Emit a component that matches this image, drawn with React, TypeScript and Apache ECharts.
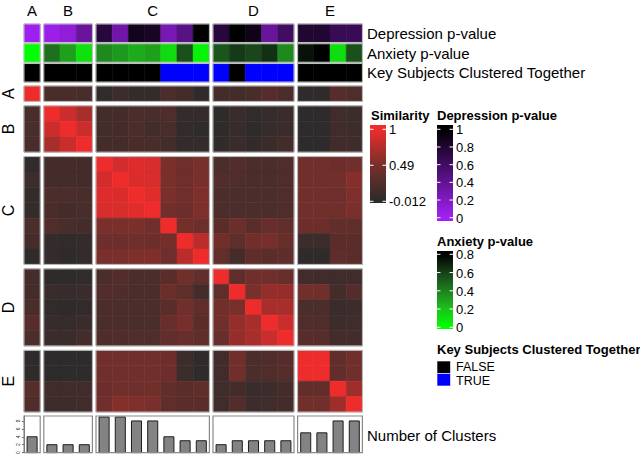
import React, { useEffect, useRef } from "react";
import * as echarts from "echarts";

// ---------------- data ----------------
const groupNames = ["A", "B", "C", "D", "E"];
const groupSizes = [1, 3, 7, 5, 4];

const depressionP = [0.01, 0.03, 0.1, 0.35, 0.75, 0.3, 0.88, 0.85, 0.25, 0.45, 1.0, 0.75, 1.0, 0.9, 0.35, 0.6, 0.8, 0.8, 0.65, 0.65];
const anxietyP = [0.0, 0.45, 0.3, 0.1, 0.37, 0.32, 0.27, 0.3, 0.12, 0.55, 0.04, 0.53, 0.62, 0.58, 0.65, 0.37, 0.74, 0.8, 0.11, 0.55];
const keyTogether = [0, 0, 0, 0, 0, 0, 0, 0, 1, 1, 1, 1, 0, 1, 1, 1, 0, 0, 0, 0];
const numClusters = [4, 2, 2, 2, 9, 9, 8, 8, 4, 3, 3, 2, 3, 3, 3, 3, 5, 5, 8, 8];

const similarity = [
  [1.0, 0.18, 0.18, 0.18, 0.03, 0.1, 0.05, 0.05, 0.2, 0.15, 0.02, 0.15, 0.15, 0.18, 0.28, 0.2, 0.02, 0.02, 0.28, 0.22],
  [0.18, 1.0, 0.85, 0.7, 0.15, 0.15, 0.2, 0.18, 0.22, 0.05, 0.05, 0.02, 0.08, 0.03, 0.06, 0.08, 0.0, 0.0, 0.12, 0.1],
  [0.18, 0.85, 1.0, 0.85, 0.15, 0.15, 0.2, 0.15, 0.18, 0.03, 0.02, 0.02, 0.06, 0.02, 0.06, 0.08, 0.0, 0.0, 0.12, 0.1],
  [0.18, 0.7, 0.85, 1.0, 0.15, 0.15, 0.18, 0.18, 0.15, 0.05, 0.05, 0.03, 0.08, 0.04, 0.08, 0.15, 0.0, 0.0, 0.14, 0.12],
  [0.03, 0.15, 0.15, 0.15, 1.0, 0.88, 0.93, 0.9, 0.5, 0.43, 0.5, 0.2, 0.25, 0.2, 0.2, 0.22, 0.45, 0.45, 0.42, 0.45],
  [0.1, 0.15, 0.15, 0.15, 0.88, 1.0, 0.92, 0.9, 0.5, 0.43, 0.5, 0.25, 0.22, 0.2, 0.2, 0.22, 0.45, 0.45, 0.45, 0.55],
  [0.05, 0.2, 0.2, 0.18, 0.93, 0.92, 1.0, 0.95, 0.5, 0.43, 0.52, 0.2, 0.2, 0.2, 0.2, 0.22, 0.45, 0.45, 0.43, 0.52],
  [0.05, 0.18, 0.15, 0.18, 0.9, 0.9, 0.95, 1.0, 0.45, 0.42, 0.52, 0.2, 0.2, 0.2, 0.2, 0.22, 0.45, 0.45, 0.45, 0.5],
  [0.2, 0.22, 0.18, 0.15, 0.5, 0.5, 0.5, 0.45, 1.0, 0.47, 0.43, 0.3, 0.4, 0.3, 0.38, 0.35, 0.42, 0.42, 0.35, 0.33],
  [0.15, 0.05, 0.03, 0.05, 0.43, 0.43, 0.43, 0.42, 0.47, 1.0, 0.78, 0.45, 0.32, 0.45, 0.48, 0.38, 0.1, 0.1, 0.3, 0.3],
  [0.02, 0.05, 0.02, 0.05, 0.5, 0.5, 0.52, 0.52, 0.43, 0.78, 1.0, 0.35, 0.15, 0.33, 0.3, 0.33, 0.02, 0.02, 0.33, 0.3],
  [0.15, 0.02, 0.02, 0.03, 0.2, 0.25, 0.2, 0.2, 0.3, 0.45, 0.35, 1.0, 0.33, 0.45, 0.45, 0.38, 0.13, 0.13, 0.12, 0.12],
  [0.15, 0.08, 0.06, 0.08, 0.25, 0.22, 0.2, 0.2, 0.4, 0.32, 0.15, 0.33, 1.0, 0.5, 0.62, 0.62, 0.45, 0.45, 0.15, 0.25],
  [0.18, 0.03, 0.02, 0.04, 0.2, 0.2, 0.2, 0.2, 0.3, 0.45, 0.33, 0.45, 0.5, 1.0, 0.7, 0.7, 0.2, 0.2, 0.08, 0.1],
  [0.28, 0.06, 0.06, 0.08, 0.2, 0.2, 0.2, 0.2, 0.38, 0.48, 0.3, 0.45, 0.62, 0.7, 1.0, 0.85, 0.22, 0.22, 0.1, 0.12],
  [0.2, 0.08, 0.08, 0.15, 0.22, 0.22, 0.22, 0.22, 0.35, 0.38, 0.33, 0.38, 0.62, 0.7, 0.85, 1.0, 0.28, 0.28, 0.15, 0.15],
  [0.02, 0.0, 0.0, 0.0, 0.45, 0.45, 0.45, 0.45, 0.42, 0.1, 0.02, 0.13, 0.45, 0.2, 0.22, 0.28, 1.0, 1.0, 0.35, 0.45],
  [0.02, 0.0, 0.0, 0.0, 0.45, 0.45, 0.45, 0.45, 0.42, 0.1, 0.02, 0.13, 0.45, 0.2, 0.22, 0.28, 1.0, 1.0, 0.35, 0.45],
  [0.28, 0.12, 0.12, 0.14, 0.42, 0.45, 0.43, 0.45, 0.35, 0.3, 0.33, 0.12, 0.15, 0.08, 0.1, 0.15, 0.35, 0.35, 1.0, 0.66],
  [0.22, 0.1, 0.1, 0.12, 0.45, 0.55, 0.52, 0.5, 0.33, 0.3, 0.3, 0.12, 0.25, 0.1, 0.12, 0.15, 0.45, 0.45, 0.66, 1.0],
];

const annotationNames = ["Depression p-value", "Anxiety p-value", "Key Subjects Clustered Together"];
const barAxisTicks = [0, 2, 4, 6, 8];
const simLegendLabels = ["1", "0.49", "-0.012"];
const depLegendLabels = ["1", "0.8", "0.6", "0.4", "0.2", "0"];
const anxLegendLabels = ["0.8", "0.6", "0.4", "0.2", "0"];
const keyLegendLabels = ["FALSE", "TRUE"];

// ---------------- colours ----------------
const simColors = ["#2b2b2b", "#782f2b", "#ee2c2c"];
const depColors = ["#a020f0", "#000000"];
const anxColors = ["#00ff00", "#1cc21c", "#1e801e", "#18401a", "#000000"];
const keyColors = ["#000000", "#0000ff"];

// ---------------- layout ----------------
const FONT = "Liberation Sans, Arial, Helvetica, sans-serif";
const LEFT = 24;
const COL_W = 16.2;
const GAP_X = 3.6;
const HM_TOP = 86;
const ROW_H = 15.4;
const GAP_Y = 4.5;
const ANN_TOP = 24;
const ANN_H = 18.5;
const ANN_GAP = 1.3;
const BAR_TOP = 416;
const BAR_H = 37;
const BAR_MAX = 9.25;

const N = groupSizes.reduce((a, b) => a + b, 0);
const G = groupSizes.length;
const gx = GAP_X / COL_W;
const gy = GAP_Y / ROW_H;
const ga = ANN_GAP / ANN_H;
const totalX = N + (G - 1) * gx;
const totalY = N + (G - 1) * gy;
const totalA = 3 + 2 * ga;
const ANN_TOTAL_PX = 58;
const groupOf: number[] = [];
groupSizes.forEach((s, g) => {
  for (let k = 0; k < s; k++) groupOf.push(g);
});
const groupStart = groupSizes.map((_, g) => groupSizes.slice(0, g).reduce((a, b) => a + b, 0));
const posX = (i: number) => i + groupOf[i] * gx;
const posY = (i: number) => i + groupOf[i] * gy;
const sliceX0 = (g: number) => groupStart[g] + g * gx;
const sliceY0 = (g: number) => groupStart[g] + g * gy;
const annY = (a: number) => a * (1 + ga);

function cellRender(_params: any, api: any) {
  const x = api.value(0) as number;
  const y = api.value(1) as number;
  const p0 = api.coord([x, y]);
  const p1 = api.coord([x + 1, y + 1]);
  const color = api.visual("color");
  return {
    type: "rect",
    shape: {
      x: Math.min(p0[0], p1[0]),
      y: Math.min(p0[1], p1[1]),
      width: Math.abs(p1[0] - p0[0]),
      height: Math.abs(p1[1] - p0[1]),
    },
    style: { fill: color, stroke: color, lineWidth: 0.6 },
  };
}

function boxRender(stroke: string, lw: number) {
  return (_params: any, api: any) => {
    const p0 = api.coord([api.value(0), api.value(1)]);
    const p1 = api.coord([api.value(2), api.value(3)]);
    return {
      type: "rect",
      shape: {
        x: Math.min(p0[0], p1[0]),
        y: Math.min(p0[1], p1[1]),
        width: Math.abs(p1[0] - p0[0]),
        height: Math.abs(p1[1] - p0[1]),
      },
      style: { fill: "none", stroke, lineWidth: lw },
    };
  };
}

function barRender(_params: any, api: any) {
  const x = api.value(0) as number;
  const v = api.value(1) as number;
  const p0 = api.coord([x + 0.19, v]);
  const p1 = api.coord([x + 0.81, 0]);
  return {
    type: "rect",
    shape: { x: p0[0], y: p0[1], width: p1[0] - p0[0], height: p1[1] - p0[1] },
    style: { fill: "#838383", stroke: "#1e1e1e", lineWidth: 1 },
  };
}

function buildOption() {
  const heatData: number[][] = [];
  for (let r = 0; r < N; r++) for (let c = 0; c < N; c++) heatData.push([posX(c), posY(r), similarity[r][c]]);
  const heatBorders: number[][] = [];
  for (let gr = 0; gr < G; gr++)
    for (let gc = 0; gc < G; gc++)
      heatBorders.push([sliceX0(gc), sliceY0(gr), sliceX0(gc) + groupSizes[gc], sliceY0(gr) + groupSizes[gr]]);
  const depData = depressionP.map((v, c) => [posX(c), annY(0), v]);
  const anxData = anxietyP.map((v, c) => [posX(c), annY(1), v]);
  const keyData = keyTogether.map((v, c) => [posX(c), annY(2), v]);
  const annBorders: number[][] = [];
  for (let a = 0; a < 3; a++)
    for (let g = 0; g < G; g++) annBorders.push([sliceX0(g), annY(a), sliceX0(g) + groupSizes[g], annY(a) + 1]);
  const barBoxes = groupSizes.map((s, g) => [sliceX0(g), 0, sliceX0(g) + s, BAR_MAX]);
  const barData = numClusters.map((v, c) => [posX(c), v]);

  const texts: any[] = [];
  const txt = (x: number, y: number, text: string, size: number, extra: any = {}, rot = 0) =>
    texts.push({
      type: "text",
      x,
      y,
      rotation: rot,
      silent: true,
      style: {
        text,
        fontSize: size,
        fontFamily: FONT,
        fill: "#000",
        align: "left",
        verticalAlign: "middle",
        ...extra,
      },
    });

  groupNames.forEach((name, g) => {
    const cx = LEFT + (sliceX0(g) + groupSizes[g] / 2) * COL_W;
    txt(cx, 10.5, name, 15, { align: "center" });
    const cy = HM_TOP + (sliceY0(g) + groupSizes[g] / 2) * ROW_H;
    txt(8, cy, name, 16, { align: "center" }, Math.PI / 2);
  });
  annotationNames.forEach((name, a) => {
    txt(367, ANN_TOP + ((annY(a) + 0.5) / totalA) * ANN_TOTAL_PX, name, 15);
  });
  txt(367, 435.5, "Number of Clusters", 15);

  // legends
  const legendItems: any[] = [];
  const bold = { fontWeight: "bold" };
  txt(371, 115, "Similarity", 13, bold);
  txt(437, 115, "Depression p-value", 13, bold);
  txt(437, 241, "Anxiety p-value", 13, bold);
  txt(437, 349, "Key Subjects Clustered Together", 13, bold);

  const gradRect = (x: number, y: number, h: number, stops: any[]) =>
    legendItems.push({
      type: "rect",
      silent: true,
      shape: { x, y, width: 16, height: h },
      style: { fill: { type: "linear", x: 0, y: 0, x2: 0, y2: 1, colorStops: stops } },
    });
  const ticks = (x: number, ys: number[]) =>
    ys.forEach((ty) => {
      legendItems.push({ type: "line", silent: true, shape: { x1: x, y1: ty, x2: x + 3.5, y2: ty }, style: { stroke: "#fff", lineWidth: 1 } });
      legendItems.push({ type: "line", silent: true, shape: { x1: x + 12.5, y1: ty, x2: x + 16, y2: ty }, style: { stroke: "#fff", lineWidth: 1 } });
    });

  gradRect(370, 125, 78, [
    { offset: 0, color: simColors[2] },
    { offset: 0.055, color: simColors[2] },
    { offset: 0.515, color: simColors[1] },
    { offset: 0.975, color: simColors[0] },
    { offset: 1, color: simColors[0] },
  ]);
  const simYs = [129.3, 165.3, 201.3];
  ticks(370, simYs);
  simLegendLabels.forEach((l, i) => txt(389, simYs[i] + 0.5, l, 13));

  gradRect(437, 125, 96, [
    { offset: 0, color: depColors[1] },
    { offset: 0.045, color: depColors[1] },
    { offset: 0.955, color: depColors[0] },
    { offset: 1, color: depColors[0] },
  ]);
  const depYs = depLegendLabels.map((_, i) => 129.3 + i * 17.68);
  ticks(437, depYs);
  depLegendLabels.forEach((l, i) => txt(456, depYs[i] + 0.5, l, 13));

  const a0 = 0.042;
  const a1 = 0.976;
  gradRect(437, 251, 78, [
    { offset: 0, color: anxColors[4] },
    ...[4, 3, 2, 1, 0].map((k, j) => ({ offset: a0 + (j / 4) * (a1 - a0), color: anxColors[k] })),
    { offset: 1, color: anxColors[0] },
  ]);
  const anxYs = anxLegendLabels.map((_, i) => 254.3 + i * 18.25);
  ticks(437, anxYs);
  anxLegendLabels.forEach((l, i) => txt(456, anxYs[i] + 0.5, l, 13));

  keyLegendLabels.forEach((l, i) => {
    legendItems.push({
      type: "rect",
      silent: true,
      shape: { x: 437, y: 361 + i * 12.5, width: 13.5, height: 12.5 },
      style: { fill: keyColors[i], stroke: "#fff", lineWidth: 0.6 },
    });
    txt(456, 367 + i * 13.5, l, 12.5);
  });

  const hiddenX = (gi: number) => ({ type: "value", gridIndex: gi, min: 0, max: totalX, show: false });

  return {
    animation: false,
    backgroundColor: "#ffffff",
    grid: [
      { left: LEFT, top: ANN_TOP, width: totalX * COL_W, height: ANN_TOTAL_PX },
      { left: LEFT, top: HM_TOP, width: totalX * COL_W, height: totalY * ROW_H },
      { left: LEFT, top: BAR_TOP, width: totalX * COL_W, height: BAR_H },
    ],
    xAxis: [hiddenX(0), hiddenX(1), hiddenX(2)],
    yAxis: [
      { type: "value", gridIndex: 0, min: 0, max: totalA, inverse: true, show: false },
      { type: "value", gridIndex: 1, min: 0, max: totalY, inverse: true, show: false },
      {
        type: "value",
        gridIndex: 2,
        min: 0,
        max: BAR_MAX,
        offset: 2,
        axisLine: { show: true, lineStyle: { color: "#444", width: 0.8 } },
        axisTick: { show: true, length: 2, customValues: barAxisTicks, lineStyle: { color: "#444", width: 0.8 } },
        axisLabel: {
          show: true,
          customValues: barAxisTicks,
          rotate: 90,
          fontSize: 5,
          margin: 2,
          color: "#333",
          fontFamily: FONT,
        },
        splitLine: { show: false },
      },
    ],
    visualMap: [
      { type: "continuous", show: false, seriesIndex: 0, dimension: 2, min: -0.012, max: 1, inRange: { color: simColors } },
      { type: "continuous", show: false, seriesIndex: 2, dimension: 2, min: 0, max: 1, inRange: { color: depColors } },
      { type: "continuous", show: false, seriesIndex: 3, dimension: 2, min: 0, max: 0.8, inRange: { color: anxColors } },
      {
        type: "piecewise",
        show: false,
        seriesIndex: 4,
        dimension: 2,
        pieces: [
          { value: 0, color: keyColors[0] },
          { value: 1, color: keyColors[1] },
        ],
      },
    ],
    series: [
      { type: "custom", xAxisIndex: 1, yAxisIndex: 1, data: heatData, renderItem: cellRender, silent: true, encode: { x: 0, y: 1 } },
      { type: "custom", xAxisIndex: 1, yAxisIndex: 1, data: heatBorders, renderItem: boxRender("#bdbdbd", 1), silent: true, z: 3, encode: { x: [0, 2], y: [1, 3] } },
      { type: "custom", xAxisIndex: 0, yAxisIndex: 0, data: depData, renderItem: cellRender, silent: true, encode: { x: 0, y: 1 } },
      { type: "custom", xAxisIndex: 0, yAxisIndex: 0, data: anxData, renderItem: cellRender, silent: true, encode: { x: 0, y: 1 } },
      { type: "custom", xAxisIndex: 0, yAxisIndex: 0, data: keyData, renderItem: cellRender, silent: true, encode: { x: 0, y: 1 } },
      { type: "custom", xAxisIndex: 0, yAxisIndex: 0, data: annBorders, renderItem: boxRender("#c4c4c4", 1), silent: true, z: 3, encode: { x: [0, 2], y: [1, 3] } },
      { type: "custom", xAxisIndex: 2, yAxisIndex: 2, data: barBoxes, renderItem: boxRender("#8a8a8a", 1.2), silent: true, z: 3, encode: { x: [0, 2], y: [1, 3] } },
      { type: "custom", xAxisIndex: 2, yAxisIndex: 2, data: barData, renderItem: barRender, silent: true, encode: { x: 0, y: 1 } },
    ],
    graphic: { elements: [...legendItems, ...texts] },
  };
}

export default function App() {
  const ref = useRef<HTMLDivElement>(null);
  useEffect(() => {
    document.body.style.margin = "0";
    if (!ref.current) return;
    const chart = echarts.init(ref.current, undefined, { renderer: "svg" });
    chart.setOption(buildOption() as any);
    return () => chart.dispose();
  }, []);
  return <div ref={ref} style={{ width: 640, height: 457 }} />;
}
